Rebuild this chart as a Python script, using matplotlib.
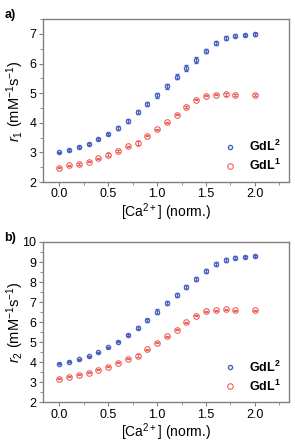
import matplotlib.pyplot as plt
from matplotlib.ticker import MultipleLocator
from matplotlib.lines import Line2D

plt.rcParams['font.family'] = ['Liberation Sans', 'DejaVu Sans']
plt.rcParams['mathtext.fontset'] = 'custom'
plt.rcParams['mathtext.rm'] = 'Liberation Sans'
plt.rcParams['mathtext.it'] = 'Liberation Sans:italic'
plt.rcParams['mathtext.bf'] = 'Liberation Sans:bold'

# 数据
x_blue = [0.0, 0.1, 0.2, 0.3, 0.4, 0.5, 0.6, 0.7, 0.8, 0.9, 1.0,
          1.1, 1.2, 1.3, 1.4, 1.5, 1.6, 1.7, 1.8, 1.9, 2.0]
x_red = [0.0, 0.1, 0.2, 0.3, 0.4, 0.5, 0.6, 0.7, 0.8, 0.9, 1.0,
         1.1, 1.2, 1.3, 1.4, 1.5, 1.6, 1.7, 1.8, 2.0]

r1_gdl2 = [3.00, 3.08, 3.17, 3.29, 3.44, 3.63, 3.83, 4.07, 4.35, 4.63, 4.93,
           5.23, 5.55, 5.85, 6.13, 6.42, 6.68, 6.85, 6.93, 6.96, 6.98]
r1_gdl2_err = [0.03, 0.03, 0.03, 0.03, 0.03, 0.04, 0.07, 0.07, 0.07, 0.07, 0.08,
               0.08, 0.08, 0.1, 0.1, 0.08, 0.07, 0.07, 0.05, 0.04, 0.04]
r1_gdl1 = [2.48, 2.56, 2.62, 2.69, 2.80, 2.92, 3.05, 3.21, 3.31, 3.57,
           3.78, 4.02, 4.27, 4.53, 4.78, 4.92, 4.95, 4.96, 4.93, 4.93]
r1_gdl1_err = [0.02, 0.02, 0.03, 0.02, 0.02, 0.05, 0.02, 0.02, 0.06, 0.02,
               0.02, 0.02, 0.02, 0.02, 0.02, 0.02, 0.02, 0.04, 0.03, 0.03]

r2_gdl2 = [3.92, 4.02, 4.15, 4.30, 4.50, 4.75, 5.03, 5.35, 5.72, 6.10, 6.52,
           6.93, 7.35, 7.75, 8.15, 8.55, 8.88, 9.10, 9.22, 9.27, 9.30]
r2_gdl2_err = [0.03, 0.03, 0.03, 0.03, 0.03, 0.03, 0.04, 0.05, 0.08, 0.08, 0.12,
               0.1, 0.1, 0.1, 0.12, 0.1, 0.1, 0.08, 0.06, 0.05, 0.05]
r2_gdl1 = [3.18, 3.27, 3.37, 3.48, 3.62, 3.78, 3.97, 4.18, 4.33, 4.65,
           4.97, 5.30, 5.62, 6.00, 6.33, 6.55, 6.60, 6.63, 6.60, 6.60]
r2_gdl1_err = [0.02, 0.02, 0.02, 0.02, 0.02, 0.02, 0.02, 0.02, 0.08, 0.02,
               0.02, 0.02, 0.02, 0.02, 0.02, 0.02, 0.02, 0.03, 0.02, 0.02]

blue = '#4a62c4'
red = '#f0605a'
spine_c = '#808080'

fig = plt.figure(figsize=(2.95, 4.44), dpi=100)
ax1 = fig.add_axes([0.145, 0.59, 0.835, 0.367])
ax2 = fig.add_axes([0.145, 0.094, 0.835, 0.361])

panels = [
    (ax1, r1_gdl2, r1_gdl2_err, r1_gdl1, r1_gdl1_err, (2, 7.5), '$\\it{r}_1$ (mM$^{-1}$s$^{-1}$)', 'a)'),
    (ax2, r2_gdl2, r2_gdl2_err, r2_gdl1, r2_gdl1_err, (2, 10), '$\\it{r}_2$ (mM$^{-1}$s$^{-1}$)', 'b)'),
]

for ax, yb, eb, yr, er, ylim, ylab, tag in panels:
    ax.errorbar(x_blue, yb, yerr=eb, fmt='o', ms=3.0, mfc='none', mec=blue,
                mew=1.0, ecolor=blue, elinewidth=0.8, capsize=1.5, capthick=0.8)
    ax.errorbar(x_red, yr, yerr=er, fmt='o', ms=4.0, mfc='none', mec=red,
                mew=0.8, ecolor=red, elinewidth=0.8, capsize=1.5, capthick=0.8)
    ax.set_xlim(-0.17, 2.35)
    ax.set_ylim(*ylim)
    ax.xaxis.set_minor_locator(MultipleLocator(0.25))
    ax.yaxis.set_major_locator(MultipleLocator(1))
    ax.yaxis.set_minor_locator(MultipleLocator(0.5))
    ax.set_xticks([0, 0.5, 1.0, 1.5, 2.0])
    ax.set_xticklabels(['0.0', '0.5', '1.0', '1.5', '2.0'])
    for s in ax.spines.values():
        s.set_color(spine_c)
        s.set_linewidth(1.0)
    ax.tick_params(which='major', direction='out', length=3, width=0.8,
                   color=spine_c, labelsize=9, pad=1.5)
    ax.tick_params(which='minor', direction='out', length=2, width=0.6,
                   color=spine_c)
    ax.set_xlabel('[Ca$^{2+}$] (norm.)', fontsize=10, labelpad=0.5)
    ax.set_ylabel(ylab, fontsize=10.5, va='center')
    ax.yaxis.set_label_coords(-0.112, 0.5)
    handles = [Line2D([], [], ls='none', marker='o', ms=3.0, mfc='none', mec=blue, mew=1.0),
               Line2D([], [], ls='none', marker='o', ms=4.0, mfc='none', mec=red, mew=0.8)]
    leg = ax.legend(handles, ['GdL$^\\mathbf{2}$', 'GdL$^\\mathbf{1}$'],
                    loc='lower right', frameon=False, fontsize=9,
                    handletextpad=1.0, borderaxespad=0.3, labelspacing=0.3,
                    handlelength=1.0)
    for t in leg.get_texts():
        t.set_fontweight('bold')
    fig.text(0.015, ax.get_position().y1 - 0.005, tag, fontsize=9,
             fontweight='bold', va='bottom')

fig.savefig('out.png', dpi=100)
